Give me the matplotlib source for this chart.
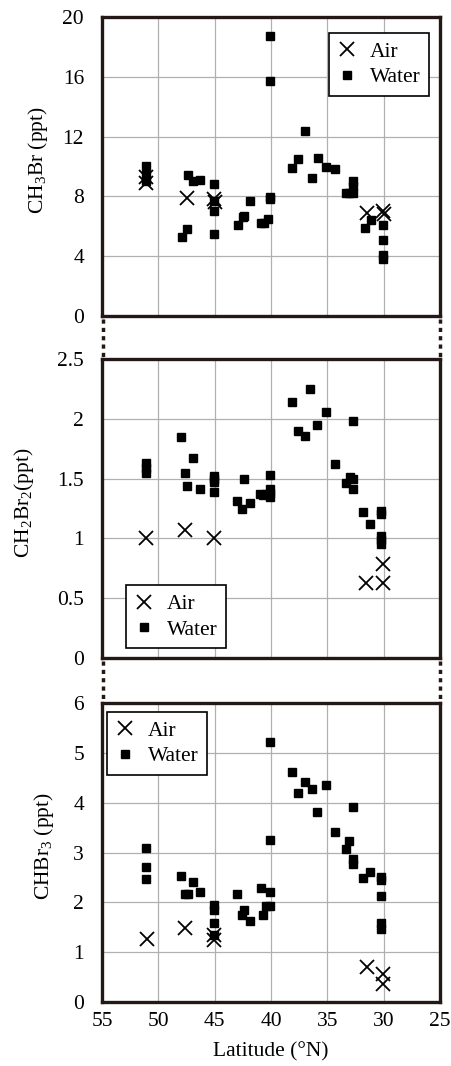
import matplotlib
matplotlib.use("Agg")
import matplotlib.pyplot as plt
from matplotlib.lines import Line2D

plt.rcParams['font.family'] = ['Liberation Serif', 'DejaVu Serif']
plt.rcParams['mathtext.default'] = 'regular'
plt.rcParams['font.size'] = 15.5

# CH3Br
ch3br_water_lat = [51.1, 51.1, 51.1, 47.4, 46.9, 46.3, 47.9, 47.5, 45.1, 45.1, 45.1, 45.1,
                   42.9, 42.5, 42.4, 41.9, 40.9, 40.6, 40.3, 40.1, 40.1, 40.1, 40.1,
                   38.1, 37.6, 37.0, 36.4, 35.8, 35.1, 34.3, 33.3, 33.1, 32.7, 32.7, 32.7,
                   31.7, 31.1, 30.1, 30.1, 30.1, 30.1]
ch3br_water = [10.0, 9.4, 9.0, 9.4, 9.0, 9.1, 5.3, 5.8, 8.8, 7.7, 7.0, 5.5,
               6.1, 6.6, 6.7, 7.7, 6.2, 6.2, 6.5, 18.7, 15.7, 7.96, 7.8,
               9.9, 10.5, 12.4, 9.2, 10.6, 9.96, 9.8, 8.2, 8.2, 8.2, 8.7, 9.0,
               5.9, 6.4, 6.1, 5.1, 4.1, 3.8]
ch3br_air_lat = [51.1, 51.1, 47.5, 45.1, 45.0, 31.5, 30.1, 30.0]
ch3br_air = [9.3, 8.9, 7.9, 7.8, 7.6, 6.9, 7.0, 6.8]

# CH2Br2
ch2br2_water_lat = [51.1, 51.1, 51.1, 48.0, 46.9, 47.6, 47.5, 46.3, 45.1, 45.1, 45.1, 45.1,
                    43.0, 42.6, 41.9, 42.4, 41.0, 40.7, 40.4, 40.1, 40.1, 40.1, 40.1,
                    38.1, 36.5, 35.1, 37.6, 37.0, 35.9, 32.7, 34.3, 33.0, 32.7, 33.3, 32.7,
                    31.8, 31.2, 30.2, 30.2, 30.2, 30.2, 30.2]
ch2br2_water = [1.63, 1.59, 1.55, 1.85, 1.67, 1.55, 1.44, 1.41, 1.52, 1.50, 1.47, 1.39,
                1.31, 1.25, 1.30, 1.50, 1.37, 1.36, 1.37, 1.41, 1.38, 1.35, 1.53,
                2.14, 2.25, 2.06, 1.90, 1.86, 1.95, 1.98, 1.62, 1.51, 1.50, 1.46, 1.41,
                1.22, 1.12, 1.23, 1.20, 1.02, 0.99, 0.95]
ch2br2_air_lat = [51.1, 47.6, 45.1, 30.1, 31.6, 30.1]
ch2br2_air = [1.00, 1.07, 1.00, 0.79, 0.63, 0.63]

# CHBr3
chbr3_water_lat = [51.1, 51.1, 51.1, 48.0, 46.9, 47.6, 47.4, 46.3, 45.1, 45.1, 45.1, 45.1,
                   43.0, 42.6, 42.4, 41.9, 40.9, 40.7, 40.4, 40.1, 40.1, 40.1, 40.1,
                   38.1, 37.0, 37.6, 36.4, 35.1, 35.9, 32.7, 34.3, 33.1, 33.3, 32.7, 32.7,
                   31.8, 31.2, 30.2, 30.2, 30.2, 30.2, 30.2]
chbr3_water = [3.10, 2.70, 2.46, 2.52, 2.40, 2.17, 2.17, 2.20, 1.95, 1.85, 1.58, 1.35,
               2.17, 1.75, 1.85, 1.62, 2.28, 1.75, 1.92, 1.92, 2.20, 3.25, 5.22,
               4.61, 4.42, 4.19, 4.27, 4.35, 3.82, 3.91, 3.42, 3.23, 3.07, 2.87, 2.77,
               2.48, 2.60, 2.50, 2.45, 2.12, 1.58, 1.46]
chbr3_air_lat = [51.0, 47.6, 45.1, 45.1, 31.5, 30.1, 30.1]
chbr3_air = [1.27, 1.48, 1.34, 1.25, 0.71, 0.57, 0.37]

lat_ticks = [55, 50, 45, 40, 35, 30, 25]
ylabels = ['CH$_3$Br (ppt)', 'CH$_2$Br$_2$(ppt)', 'CHBr$_3$ (ppt)']
yticks = [[0, 4, 8, 12, 16, 20], [0, 0.5, 1, 1.5, 2, 2.5], [0, 1, 2, 3, 4, 5, 6]]
ytick_text = [['0', '4', '8', '12', '16', '20'], ['0', '0.5', '1', '1.5', '2', '2.5'],
              ['0', '1', '2', '3', '4', '5', '6']]
ylims = [(0, 20), (0, 2.5), (0, 6)]

W, H = 451, 1066
fig = plt.figure(figsize=(W / 100, H / 100), dpi=100)
frame_col = '#231815'

# axes boxes in pixels: (top, bottom)
boxes = [(17, 316), (359, 658), (703, 1002)]
left, right = 102, 440
legend_pos = [('upper right', (0.967, 0.946)), ('lower left', (0.071, 0.033)),
              ('upper left', (0.015, 0.97))]
label_x = [-0.154, -0.195, -0.135]

data = [(ch3br_water_lat, ch3br_water, ch3br_air_lat, ch3br_air),
        (ch2br2_water_lat, ch2br2_water, ch2br2_air_lat, ch2br2_air),
        (chbr3_water_lat, chbr3_water, chbr3_air_lat, chbr3_air)]

axes = []
for i, (top, bot) in enumerate(boxes):
    ax = fig.add_axes([left / W, 1 - bot / H, (right - left) / W, (bot - top) / H])
    axes.append(ax)
    wl, wv, al, av = data[i]
    ax.plot(al, av, linestyle='none', marker='x', color='black', markersize=10,
            markeredgewidth=1.3, label='Air', zorder=3)
    ax.plot(wl, wv, linestyle='none', marker='s', color='black', markersize=5.5,
            label='Water', zorder=3)
    ax.set_xlim(55, 25)
    ax.set_ylim(*ylims[i])
    ax.set_xticks(lat_ticks)
    ax.set_yticks(yticks[i])
    ax.set_yticklabels(ytick_text[i])
    ax.grid(True, color='#b0b0b0', linewidth=0.9)
    ax.set_axisbelow(True)
    ax.tick_params(length=0, labelsize=15.5)
    ax.tick_params(axis='y', pad=13)
    ax.tick_params(axis='x', pad=7)
    if i < 2:
        ax.set_xticklabels([])
    for s in ax.spines.values():
        s.set_linewidth(2.4)
        s.set_color(frame_col)
    ax.set_ylabel(ylabels[i], fontsize=15.5)
    ax.yaxis.set_label_coords(label_x[i], 0.52)
    loc, anchor = legend_pos[i]
    leg = ax.legend(loc=loc, bbox_to_anchor=anchor, fancybox=False, framealpha=1,
                    edgecolor='black', fontsize=15.5, handlelength=0.9, handletextpad=0.6,
                    borderpad=0.4, labelspacing=0.25, borderaxespad=0)
    leg.get_frame().set_linewidth(1.2)

axes[2].set_xlabel('Latitude (°N)', fontsize=15.5, labelpad=8)

# dotted connectors between panels
for (t1, b1), (t2, b2) in zip(boxes[:-1], boxes[1:]):
    for xp in (left + 1, right):
        fig.add_artist(Line2D([xp / W, xp / W], [1 - (b1 + 3) / H, 1 - (t2 - 2) / H],
                              color=frame_col, linewidth=2.5, linestyle=(0, (1.2, 1.2))))

fig.savefig('out.png', dpi=100)
